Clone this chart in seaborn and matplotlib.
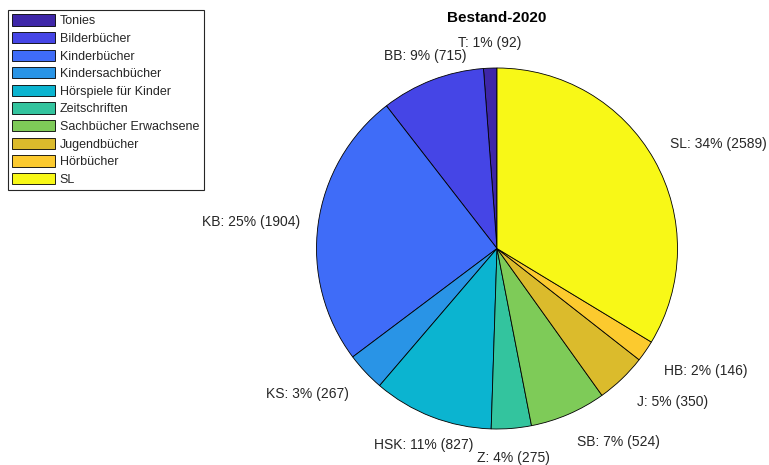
#!/usr/bin/env python
"""
Bestand-2020 : pie chart of the stock per category (MATLAB look)
"""

#%%
import numpy as np
import matplotlib
matplotlib.use("Agg")
import matplotlib.pyplot as plt
import seaborn as sns

##########################################################################
# INPUT DATA
categories = ["Tonies", "Bilderbücher", "Kinderbücher", "Kindersachbücher",
              "Hörspiele für Kinder", "Zeitschriften", "Sachbücher Erwachsene",
              "Jugendbücher", "Hörbücher", "SL"]
short_names = ["T", "BB", "KB", "KS", "HSK", "Z", "SB", "J", "HB", "SL"]
counts = [92, 715, 1904, 267, 827, 275, 524, 350, 146, 2589]
slice_colors = ["#3E26A8", "#4545E6", "#3F6CF8", "#2994E6", "#0BB4D0",
                "#33C49E", "#7ECB58", "#DBBB2C", "#FCCA2E", "#F8F817"]
title = "Bestand-2020"
##########################################################################

#%%
sns.set_theme(style="white")
plt.rcParams["font.family"] = ["Liberation Sans", "DejaVu Sans"]

W, H, DPI = 769, 465, 100
fig = plt.figure(figsize=(W / DPI, H / DPI), dpi=DPI)

# pie centre / radius in pixels
cx, cy, rad = 497, 248.5, 180.5
ax = fig.add_axes([0, 0, 1, 1])
ax.set_aspect("equal")
ax.axis("off")

pal = sns.color_palette(slice_colors)
wedges, _ = ax.pie(counts, startangle=90, counterclock=True, colors=pal,
                   radius=1, center=(0, 0), frame=False,
                   wedgeprops=dict(edgecolor="black", linewidth=0.6))
ax.set_xlim(-cx / rad, (W - cx) / rad)
ax.set_ylim(-(H - cy) / rad, cy / rad)

total = float(sum(counts))
for w, name, val in zip(wedges, short_names, counts):
    ang = np.deg2rad((w.theta1 + w.theta2) / 2)
    c, s = np.cos(ang), np.sin(ang)
    ha = "center" if abs(c) < 0.38 else ("left" if c > 0 else "right")
    if abs(s) < 0.3:
        va = "center"
    else:
        va = "bottom" if s > 0 else "top"
    dist = 1.1 if s > 0 else 1.125
    ax.text(dist * c, dist * s, f"{name}: {round(100 * val / total):.0f}% ({val})",
            ha=ha, va=va, fontsize=10, color="#262626")

fig.text(cx / W, 1 - 18 / H, title, ha="center", va="center",
         fontsize=11, fontweight="bold", color="black")

leg = ax.legend(wedges, categories, loc="upper left",
                bbox_to_anchor=(8 / W, 1 - 10 / H), bbox_transform=fig.transFigure,
                fontsize=9, frameon=True, fancybox=False, framealpha=1,
                edgecolor="#262626", handlelength=3.4, handleheight=1.0,
                handletextpad=0.4, labelspacing=0.38, borderpad=0.35,
                borderaxespad=0)
leg.get_frame().set_linewidth(0.8)
for t in leg.get_texts():
    t.set_color("#262626")

fig.savefig("out.png", dpi=DPI)
